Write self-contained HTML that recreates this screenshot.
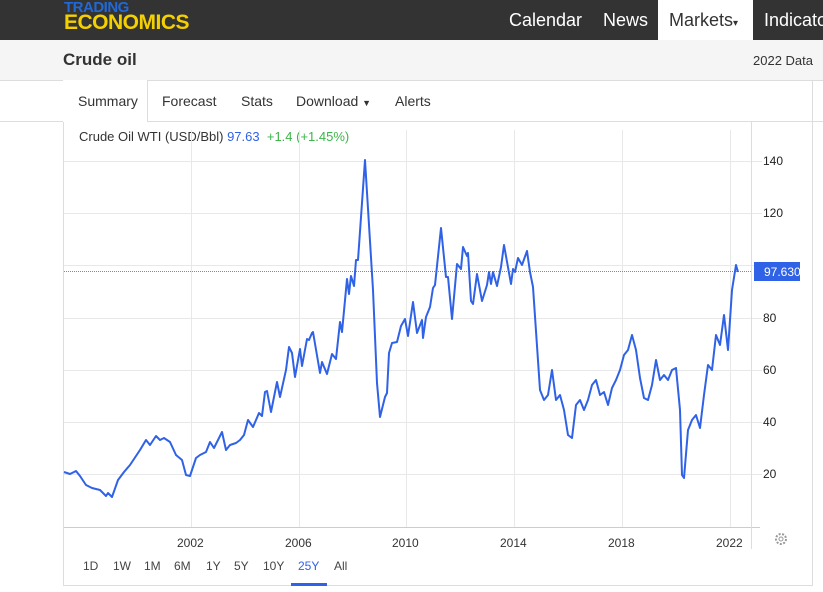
<!DOCTYPE html>
<html><head><meta charset="utf-8"><style>
body{margin:0;width:823px;height:592px;overflow:hidden;background:#fff;font-family:"Liberation Sans",Arial,sans-serif;position:relative}
.top{position:absolute;left:0;top:0;width:823px;height:40px;background:#333}
.logo1{position:absolute;left:64px;top:0;color:#2169d6;font-weight:bold;font-size:15px;line-height:15px;letter-spacing:-0.5px}
.logo2{position:absolute;left:64px;top:12px;color:#f5d000;font-weight:bold;font-size:21px;line-height:22px;letter-spacing:-0.5px}
.nav{position:absolute;top:0;height:40px;line-height:40px;color:#fff;font-size:18px}
.sub{position:absolute;left:0;top:40px;width:823px;height:40px;background:#f5f5f5;border-bottom:1px solid #ddd}
.panel{position:absolute;left:63px;top:80px;width:748px;height:505px;border:1px solid #ddd;border-top:none}
.tab{position:absolute;top:93px;font-size:14px;color:#333}
.tl{position:absolute;font-size:12px;color:#333}
.rl{position:absolute;left:763px;font-size:12px;color:#222}
.rng{position:absolute;top:559px;font-size:12px;color:#444}
</style></head><body>
<div class="top"></div>
<div class="logo1">TRADING</div><div class="logo2">ECONOMICS</div>
<div class="nav" style="left:509px">Calendar</div>
<div class="nav" style="left:603px">News</div>
<div class="nav" style="left:658px;width:95px;background:#fff;color:#333;padding-left:11px;box-sizing:border-box">Markets<span style="font-size:10px">▾</span></div>
<div class="nav" style="left:764px">Indicators</div>
<div class="sub"></div>
<div style="position:absolute;left:63px;top:50px;font-size:17px;font-weight:bold;color:#333">Crude oil</div>
<div style="position:absolute;left:753px;top:53px;font-size:13px;color:#333;white-space:nowrap">2022 Data</div>
<div style="position:absolute;left:0;top:121px;width:823px;border-top:1px solid #ddd"></div>
<div class="panel"></div>
<div style="position:absolute;left:63px;top:80px;width:84px;height:42px;border-right:1px solid #ddd;background:#fff"></div>
<div class="tab" style="left:78px">Summary</div>
<div class="tab" style="left:162px">Forecast</div>
<div class="tab" style="left:241px">Stats</div>
<div class="tab" style="left:296px">Download <span style="font-size:9px">▼</span></div>
<div class="tab" style="left:395px">Alerts</div>
<div style="position:absolute;left:79px;top:129px;font-size:13px;color:#333">Crude Oil WTI (USD/Bbl) <span style="color:#2f62e6">97.63</span> &nbsp;<span style="color:#3cb54a">+1.4 (+1.45%)</span></div>
<svg style="position:absolute;left:0;top:0" width="823" height="592">
<g stroke="#e8e8e8" stroke-width="1">
<line x1="64" y1="161.5" x2="762" y2="161.5"/><line x1="64" y1="213.5" x2="762" y2="213.5"/><line x1="64" y1="265.5" x2="762" y2="265.5"/><line x1="64" y1="318.5" x2="762" y2="318.5"/><line x1="64" y1="370.5" x2="762" y2="370.5"/><line x1="64" y1="422.5" x2="762" y2="422.5"/><line x1="64" y1="474.5" x2="762" y2="474.5"/>
<line x1="191.5" y1="130" x2="191.5" y2="527"/><line x1="299.5" y1="130" x2="299.5" y2="527"/><line x1="406.5" y1="130" x2="406.5" y2="527"/><line x1="514.5" y1="130" x2="514.5" y2="527"/><line x1="622.5" y1="130" x2="622.5" y2="527"/><line x1="730.5" y1="130" x2="730.5" y2="527"/>
</g>
<line x1="64" y1="527.5" x2="760" y2="527.5" stroke="#ccc"/>
<line x1="751.5" y1="122" x2="751.5" y2="549" stroke="#ddd"/>
<line x1="64" y1="271.5" x2="752" y2="271.5" stroke="#2f62e6" stroke-width="0.8" stroke-dasharray="1,1"/>
<polyline fill="none" stroke="#2f62e6" stroke-width="2" stroke-linejoin="round" points="64,472 70,474 76,471 80,476 86,485 92,488 100,490 106,496 108,493 112,497 118,480 124,472 130,465 140,450 146,440 150,445 156,436 160,440 164,438 170,442 176,455 182,460 186,475 190,476 196,458 200,455 206,452 210,442 214,448 218,440 222,432 226,450 230,445 236,443 240,440 244,435 248,420 253,427 259,413 262,416 265,392 267,391 271,412 277,382 280,397 286,370 289,347 292,353 295,377 300,349 302,366 307,339 309,340 312,333 313,332 320,373 322,362 327,374 332,354 336,359 340,322 342,332 347,279 349,294 351,276 354,286 356,260 358,260 365,160 369,225 373,290 377,383 380,417 385,397 387,393 389,353 392,343 397,342 401,326 405,319 408,336 413,302 417,333 422,320 423,338 426,317 430,307 433,288 435,285 441,228 446,277 448,277 452,319 457,264 461,269 463,247 467,256 468,253 471,301 473,304 477,274 482,301 487,285 489,272 491,284 493,272 497,286 501,267 504,245 511,284 513,269 515,272 518,258 522,265 527,251 530,272 533,287 540,390 544,400 548,395 552,370 556,400 560,395 564,410 568,435 572,438 576,405 580,400 584,410 588,400 592,385 596,380 600,395 604,392 608,405 612,388 616,380 620,370 624,355 628,350 632,335 636,350 640,378 644,398 648,400 652,385 656,360 660,380 664,375 668,380 672,370 676,368 680,410 682,475 684,478 688,430 692,420 696,415 700,428 704,395 708,365 712,370 716,335 720,345 724,315 728,350 732,290 736,265 738,272"/>
<rect x="754" y="262" width="46" height="19" fill="#2f62e6"/>
<text x="764" y="276" font-size="12" fill="#fff" font-family="Liberation Sans,sans-serif">97.630</text>
<circle cx="781" cy="539" r="5" fill="none" stroke="#999" stroke-width="2" stroke-dasharray="2,1.5"/>
<circle cx="781" cy="539" r="2" fill="none" stroke="#999"/>
<rect x="291" y="583" width="36" height="3" fill="#2f62e6"/>
</svg>
<div class="rl" style="top:154px">140</div><div class="rl" style="top:206px">120</div>
<div class="rl" style="top:311px">80</div><div class="rl" style="top:363px">60</div><div class="rl" style="top:415px">40</div><div class="rl" style="top:467px">20</div>
<div class="tl" style="left:177px;top:536px">2002</div><div class="tl" style="left:285px;top:536px">2006</div><div class="tl" style="left:392px;top:536px">2010</div><div class="tl" style="left:500px;top:536px">2014</div><div class="tl" style="left:608px;top:536px">2018</div><div class="tl" style="left:716px;top:536px">2022</div>
<div class="rng" style="left:83px">1D</div><div class="rng" style="left:113px">1W</div><div class="rng" style="left:144px">1M</div><div class="rng" style="left:174px">6M</div><div class="rng" style="left:206px">1Y</div><div class="rng" style="left:234px">5Y</div><div class="rng" style="left:263px">10Y</div><div class="rng" style="left:298px;color:#2f62e6">25Y</div><div class="rng" style="left:334px">All</div>
</body></html>
